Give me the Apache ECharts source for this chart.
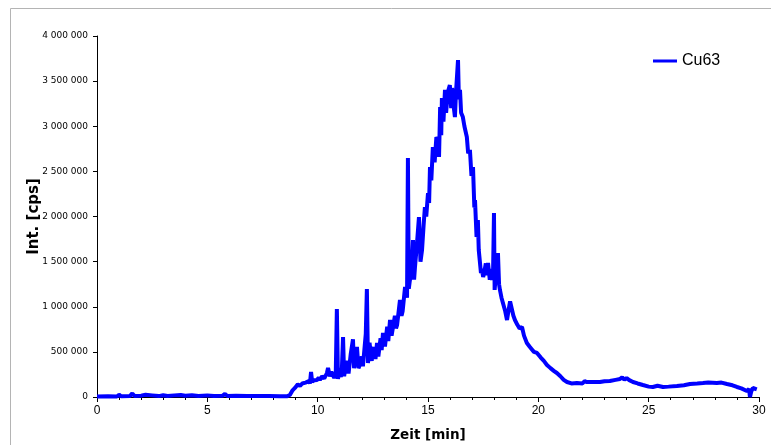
<!DOCTYPE html>
<html>
<head>
<meta charset="utf-8">
<script src="https://cdn.jsdelivr.net/npm/echarts@6/dist/echarts.min.js"></script>
<style>html,body{margin:0;padding:0;background:#fff}#c{width:771px;height:445px}</style>
</head>
<body>
<div id="c"></div>
<script>
var seriesName = 'Cu63';
var xTitle = 'Zeit [min]';
var yTitle = 'Int. [cps]';
var xTicks = [0, 5, 10, 15, 20, 25, 30];
var yTicks = [0, 500000, 1000000, 1500000, 2000000, 2500000, 3000000, 3500000, 4000000];
// time [min]
var times = [0,0.5,0.9,1.0,1.1,1.5,1.6,1.7,2.0,2.2,2.5,2.8,3.0,3.2,3.5,3.8,4.0,4.3,4.6,5.0,5.3,5.7,5.8,5.9,6.3,6.8,7.3,7.8,8.3,8.6,
8.74,8.85,8.97,9.05,9.1,9.2,9.3,9.35,9.45,9.5,9.6,9.65,9.7,9.75,9.85,9.97,10.05,10.1,10.2,10.3,10.42,10.47,10.55,10.62,10.69,10.75,10.82,10.87,10.92,11.0,11.05,11.1,11.15,11.2,11.27,11.33,11.4,11.5,11.6,11.65,11.7,11.78,11.85,11.92,12.0,12.05,12.1,12.18,12.23,12.28,12.35,12.45,12.5,12.55,12.62,12.69,12.75,12.85,12.9,12.96,13.05,13.15,13.2,13.28,13.35,13.5,13.55,13.6,13.73,13.8,13.85,13.96,14.05,14.09,14.13,14.18,14.25,14.32,14.37,14.41,14.5,14.59,14.66,14.73,14.8,14.86,14.92,15.0,15.05,15.09,15.15,15.22,15.3,15.38,15.45,15.5,15.55,15.6,15.63,15.7,15.77,15.82,15.9,15.99,16.05,16.09,16.15,16.22,16.27,16.31,16.36,16.4,16.45,16.5,16.58,16.65,16.76,16.82,16.9,16.97,17.04,17.1,17.13,17.2,17.26,17.3,17.35,17.4,17.44,17.5,17.55,17.62,17.68,17.72,17.8,17.85,17.9,17.95,17.99,18.02,18.1,18.17,18.22,18.26,18.33,18.4,18.5,18.58,18.65,18.72,18.8,18.87,18.94,19.05,19.15,19.26,19.35,19.48,19.6,19.7,19.8,19.94,20.1,20.25,20.39,20.55,20.7,20.84,21.0,21.15,21.3,21.5,21.75,22.0,22.1,22.2,22.5,22.79,23.0,23.24,23.5,23.7,23.8,23.9,24.0,24.1,24.29,24.5,24.74,25.0,25.19,25.4,25.65,25.9,26.28,26.6,26.87,27.2,27.46,27.7,28.09,28.3,28.55,28.8,29.0,29.2,29.45,29.55,29.59,29.65,29.72,29.8,29.9];
// intensity [cps]
var counts = [5000,8000,6000,25000,8000,12000,40000,10000,15000,25000,18000,10000,20000,12000,18000,22000,15000,20000,10000,18000,12000,15000,35000,12000,15000,10000,12000,10000,8000,8000,
22000,70000,100000,120000,140000,122000,150000,135000,160000,140000,175000,150000,277000,170000,185000,188000,215000,190000,230000,205000,266000,321000,230000,280000,299000,210000,260000,975000,200000,310000,220000,330000,665000,230000,350000,400000,260000,480000,640000,320000,300000,554000,320000,360000,450000,340000,330000,700000,1197000,377000,600000,400000,520000,550000,420000,598000,450000,650000,520000,709000,560000,780000,620000,853000,680000,900000,760000,800000,1075000,900000,950000,1219000,1100000,2648000,1200000,1296000,1350000,1740000,1300000,1440000,1700000,1994000,1500000,1629000,1900000,2105000,2000000,2260000,2150000,2548000,2400000,2770000,2600000,2880000,2848000,2660000,3213000,2900000,3313000,3050000,3402000,3150000,3380000,3457000,3200000,3424000,3250000,3102000,3380000,3368000,3734000,3300000,3402000,3150000,3102000,3000000,2881000,2700000,2737000,2450000,2548000,2100000,2183000,1773000,1961000,1629000,1629000,1374000,1420000,1330000,1380000,1480000,1350000,1485000,1300000,1420000,1296000,1400000,2039000,1186000,1450000,1595000,1250000,1186000,1100000,1108000,950000,853000,960000,1060000,1042000,900000,853000,800000,760000,776000,680000,598000,560000,530000,500000,488000,440000,400000,355000,320000,290000,266000,230000,190000,166000,150000,155000,150000,175000,166000,165000,166000,175000,177000,190000,199000,220000,190000,211000,190000,166000,150000,133000,115000,111000,125000,111000,115000,122000,130000,144000,150000,155000,160000,155000,160000,144000,130000,111000,95000,66000,90000,0,60000,100000,80000,85000];

var data = times.map(function(t, i){ return [t, counts[i]]; });

function fmt(v){ return String(v).replace(/\B(?=(\d{3})+(?!\d))/g, ' '); }

var chart = echarts.init(document.getElementById('c'), null, {renderer:'canvas'});
chart.setOption({
  animation: false,
  backgroundColor: '#fff',
  textStyle: {fontFamily: 'Liberation Sans, Arial, sans-serif'},
  graphic: [{
    type: 'rect', shape: {x: 10.5, y: 8.5, width: 820, height: 500},
    style: {fill: 'none', stroke: '#b4b4b4', lineWidth: 1}, silent: true, z: -1
  }],
  grid: {left: 97, right: 12, top: 36, bottom: 48, containLabel: false, outerBoundsMode: 'none'},
  legend: {
    data: [seriesName], left: 653, top: 53, itemWidth: 24, itemHeight: 14,
    icon: 'path://M0,5.5L24,5.5L24,8.5L0,8.5Z',
    textStyle: {fontSize: 16, color: '#000', fontFamily: 'Liberation Sans, Arial, sans-serif'},
    itemGap: 4, padding: 0
  },
  xAxis: {
    type: 'value', min: 0, max: 30, interval: 5,
    name: xTitle, nameLocation: 'middle', nameGap: 31, nameMoveOverlap: false,
    nameTextStyle: {fontSize: 13.5, fontWeight: 'bold', color: '#000', fontFamily: 'DejaVu Sans, sans-serif'},
    axisLine: {lineStyle: {color: '#000', width: 1}},
    axisTick: {show: true, inside: false, length: 5, lineStyle: {color: '#000'}},
    minorTick: {show: true, splitNumber: 5, length: 3, lineStyle: {color: '#000'}},
    axisLabel: {fontSize: 12, color: '#000', margin: 8,
      formatter: function(v){ return xTicks.indexOf(v) >= 0 ? String(v) : ''; }},
    splitLine: {show: false}
  },
  yAxis: {
    type: 'value', min: 0, max: 4000000, interval: 500000,
    name: yTitle, nameLocation: 'middle', nameGap: 55, nameRotate: 90, nameMoveOverlap: false,
    nameTextStyle: {fontSize: 15, fontWeight: 'bold', color: '#000', fontFamily: 'DejaVu Sans, sans-serif'},
    axisLine: {show: true, lineStyle: {color: '#000', width: 1}},
    axisTick: {show: true, inside: false, length: 4, lineStyle: {color: '#000'}},
    axisLabel: {fontSize: 9, color: '#000', margin: 9, fontFamily: 'DejaVu Sans, sans-serif',
      formatter: function(v){ return yTicks.indexOf(v) >= 0 ? fmt(v) : ''; }},
    splitLine: {show: false}
  },
  series: [{
    name: seriesName, type: 'line', data: data, showSymbol: false, symbol: 'none',
    lineStyle: {color: '#0000ff', width: 4}, itemStyle: {color: '#0000ff'},
    clip: false
  }]
});
</script>
</body>
</html>
